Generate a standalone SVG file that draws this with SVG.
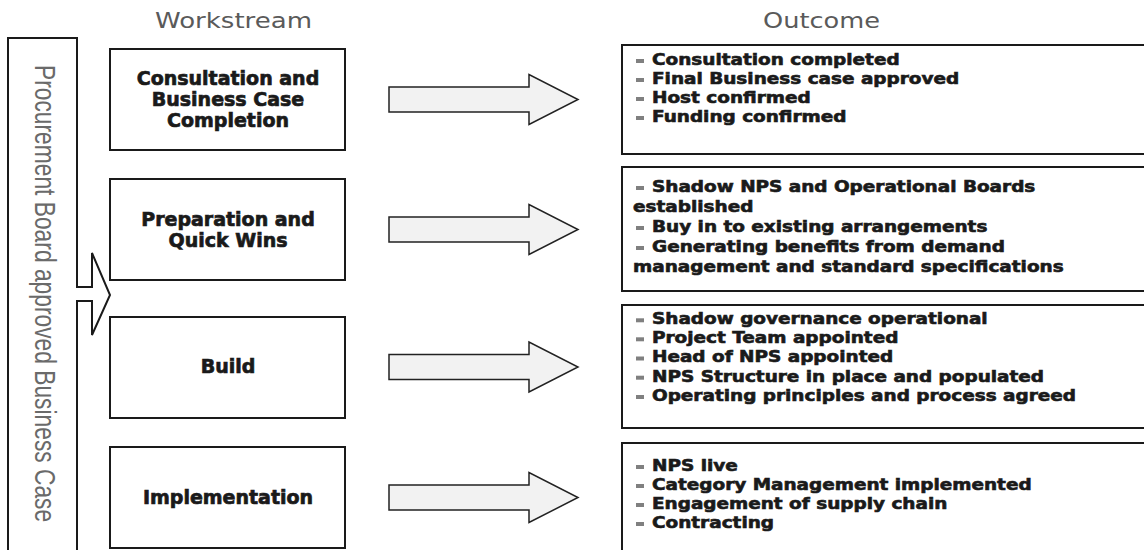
<svg xmlns="http://www.w3.org/2000/svg" width="1144" height="550" viewBox="0 0 1144 550">
<style>
.box{fill:#fff;stroke:#1a1a1a;stroke-width:2}
.hdr{font-family:"DejaVu Sans",sans-serif;font-size:21px;fill:#5a5a5a}
.vt{font-family:"Liberation Sans",Arial,sans-serif;font-size:30px;fill:#6a6a6a}
.ws{font-family:"DejaVu Sans",sans-serif;font-weight:bold;font-size:19px;fill:#1a1a1a;text-anchor:middle;stroke:#1a1a1a;stroke-width:0.7}
.oc{font-family:"DejaVu Sans",sans-serif;font-weight:bold;font-size:15px;fill:#1a1a1a;stroke:#1a1a1a;stroke-width:0.6}
.bul{fill:#808080}
.arr{fill:#f2f2f2;stroke:#222;stroke-width:1.5;stroke-linejoin:miter}
</style>
<rect width="1144" height="550" fill="#fff"/>
<g id="headers">
<text class="hdr" x="155" y="28" textLength="157" lengthAdjust="spacingAndGlyphs">Workstream</text>
<text class="hdr" x="763" y="28" textLength="117" lengthAdjust="spacingAndGlyphs">Outcome</text>
</g>
<g id="approved-business-case">
<path class="box" d="M8,553 V38 H77 V287 H92 V253 L110,295 L92,335 V301 H77 V553"/>
<g transform="translate(35,65) rotate(90) scale(0.76,1)">
<text class="vt" x="0" y="0">Procurement Board approved Business Case</text>
</g>
</g>
<g id="ws-consultation">
<rect class="box" x="110" y="49" width="235" height="101"/>
<text class="ws" x="228" y="85">Consultation and</text>
<text class="ws" x="228" y="106">Business Case</text>
<text class="ws" x="228" y="127">Completion</text>
</g>
<g id="ws-preparation">
<rect class="box" x="110" y="179" width="235" height="101"/>
<text class="ws" x="228" y="226">Preparation and</text>
<text class="ws" x="228" y="247">Quick Wins</text>
</g>
<g id="ws-build">
<rect class="box" x="110" y="317" width="235" height="101"/>
<text class="ws" x="228" y="373">Build</text>
</g>
<g id="ws-implementation">
<rect class="box" x="110" y="447" width="235" height="101"/>
<text class="ws" x="228" y="504">Implementation</text>
</g>
<g id="connectors">
<path class="arr" d="M389,87 H529 V74.5 L578,99.5 L529,124.5 V112 H389 Z"/>
<path class="arr" d="M389,217 H529 V204.5 L578,229.5 L529,254.5 V242 H389 Z"/>
<path class="arr" d="M389,354.5 H529 V342 L578,367 L529,392 V379.5 H389 Z"/>
<path class="arr" d="M389,485 H529 V472.5 L578,497.5 L529,522.5 V510 H389 Z"/>
</g>
<g id="out-1">
<rect class="box" x="622" y="45" width="540" height="109"/>
<rect class="bul" x="636" y="59" width="8" height="4"/>
<rect class="bul" x="636" y="78" width="8" height="4"/>
<rect class="bul" x="636" y="97" width="8" height="4"/>
<rect class="bul" x="636" y="116" width="8" height="4"/>
<g transform="translate(652,0) scale(1.23,1)">
<text class="oc" x="0" y="65">Consultation completed</text>
<text class="oc" x="0" y="84">Final Business case approved</text>
<text class="oc" x="0" y="103">Host confirmed</text>
<text class="oc" x="0" y="122">Funding confirmed</text>
</g>
</g>
<g id="out-2">
<rect class="box" x="622" y="167" width="540" height="124"/>
<rect class="bul" x="636" y="186" width="8" height="4"/>
<rect class="bul" x="636" y="226" width="8" height="4"/>
<rect class="bul" x="636" y="246" width="8" height="4"/>
<g transform="translate(652,0) scale(1.23,1)">
<text class="oc" x="0" y="192">Shadow NPS and Operational Boards</text>
<text class="oc" x="-15.4" y="212">established</text>
<text class="oc" x="0" y="232">Buy in to existing arrangements</text>
<text class="oc" x="0" y="252">Generating benefits from demand</text>
<text class="oc" x="-15.4" y="272">management and standard specifications</text>
</g>
</g>
<g id="out-3">
<rect class="box" x="622" y="305" width="540" height="123"/>
<rect class="bul" x="636" y="318.3" width="8" height="4"/>
<rect class="bul" x="636" y="337.3" width="8" height="4"/>
<rect class="bul" x="636" y="356.5" width="8" height="4"/>
<rect class="bul" x="636" y="375.7" width="8" height="4"/>
<rect class="bul" x="636" y="395" width="8" height="4"/>
<g transform="translate(652,0) scale(1.23,1)">
<text class="oc" x="0" y="324.3">Shadow governance operational</text>
<text class="oc" x="0" y="343.3">Project Team appointed</text>
<text class="oc" x="0" y="362.5">Head of NPS appointed</text>
<text class="oc" x="0" y="381.7">NPS Structure in place and populated</text>
<text class="oc" x="0" y="401">Operating principles and process agreed</text>
</g>
</g>
<g id="out-4">
<rect class="box" x="622" y="443" width="540" height="130"/>
<rect class="bul" x="636" y="465" width="8" height="4"/>
<rect class="bul" x="636" y="484" width="8" height="4"/>
<rect class="bul" x="636" y="503" width="8" height="4"/>
<rect class="bul" x="636" y="522" width="8" height="4"/>
<g transform="translate(652,0) scale(1.23,1)">
<text class="oc" x="0" y="471">NPS live</text>
<text class="oc" x="0" y="490">Category Management implemented</text>
<text class="oc" x="0" y="509">Engagement of supply chain</text>
<text class="oc" x="0" y="528">Contracting</text>
</g>
</g>
</svg>
